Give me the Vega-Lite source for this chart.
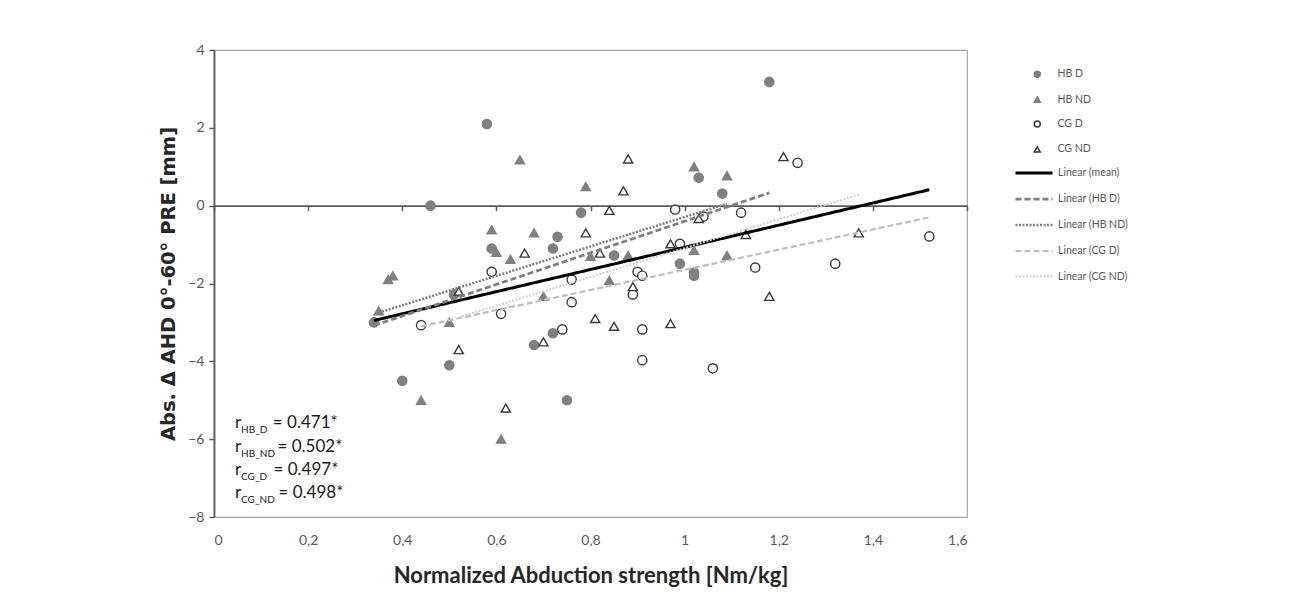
{
  "$schema": "https://vega.github.io/schema/vega-lite/v6.json",
  "width": 753,
  "height": 467,
  "autosize": "none",
  "padding": {"left": 214, "top": 50, "right": 323, "bottom": 80},
  "background": "white",
  "config": {
    "font": "Lato",
    "view": {"stroke": "#a6a6a6", "strokeWidth": 1.2}
  },
  "datasets": {
    "points": [
      {"group": "HB D", "x": 0.34, "y": -3.0}, {"group": "HB D", "x": 0.40, "y": -4.5}, {"group": "HB D", "x": 0.46, "y": 0.0},
      {"group": "HB D", "x": 0.50, "y": -4.1}, {"group": "HB D", "x": 0.51, "y": -2.28}, {"group": "HB D", "x": 0.58, "y": 2.1},
      {"group": "HB D", "x": 0.59, "y": -1.1}, {"group": "HB D", "x": 0.68, "y": -3.58}, {"group": "HB D", "x": 0.72, "y": -1.1},
      {"group": "HB D", "x": 0.72, "y": -3.28}, {"group": "HB D", "x": 0.73, "y": -0.8}, {"group": "HB D", "x": 0.75, "y": -5.0},
      {"group": "HB D", "x": 0.78, "y": -0.18}, {"group": "HB D", "x": 0.85, "y": -1.28}, {"group": "HB D", "x": 0.99, "y": -1.49},
      {"group": "HB D", "x": 1.02, "y": -1.72}, {"group": "HB D", "x": 1.02, "y": -1.8}, {"group": "HB D", "x": 1.03, "y": 0.72},
      {"group": "HB D", "x": 1.08, "y": 0.31}, {"group": "HB D", "x": 1.18, "y": 3.18},
      {"group": "HB ND", "x": 0.35, "y": -2.7}, {"group": "HB ND", "x": 0.37, "y": -1.9}, {"group": "HB ND", "x": 0.38, "y": -1.8},
      {"group": "HB ND", "x": 0.44, "y": -5.0}, {"group": "HB ND", "x": 0.50, "y": -3.0}, {"group": "HB ND", "x": 0.59, "y": -0.62},
      {"group": "HB ND", "x": 0.60, "y": -1.2}, {"group": "HB ND", "x": 0.61, "y": -6.0}, {"group": "HB ND", "x": 0.63, "y": -1.38},
      {"group": "HB ND", "x": 0.65, "y": 1.18}, {"group": "HB ND", "x": 0.68, "y": -0.7}, {"group": "HB ND", "x": 0.70, "y": -2.33},
      {"group": "HB ND", "x": 0.79, "y": 0.49}, {"group": "HB ND", "x": 0.80, "y": -1.3}, {"group": "HB ND", "x": 0.84, "y": -1.92},
      {"group": "HB ND", "x": 0.88, "y": -1.28}, {"group": "HB ND", "x": 1.02, "y": 1.0}, {"group": "HB ND", "x": 1.02, "y": -1.15},
      {"group": "HB ND", "x": 1.09, "y": 0.77}, {"group": "HB ND", "x": 1.09, "y": -1.28},
      {"group": "CG D", "x": 0.44, "y": -3.07}, {"group": "CG D", "x": 0.59, "y": -1.7}, {"group": "CG D", "x": 0.61, "y": -2.78},
      {"group": "CG D", "x": 0.74, "y": -3.18}, {"group": "CG D", "x": 0.76, "y": -1.9}, {"group": "CG D", "x": 0.76, "y": -2.48},
      {"group": "CG D", "x": 0.89, "y": -2.28}, {"group": "CG D", "x": 0.90, "y": -1.7}, {"group": "CG D", "x": 0.91, "y": -1.8},
      {"group": "CG D", "x": 0.91, "y": -3.18}, {"group": "CG D", "x": 0.91, "y": -3.97}, {"group": "CG D", "x": 0.98, "y": -0.1},
      {"group": "CG D", "x": 0.99, "y": -0.98}, {"group": "CG D", "x": 1.04, "y": -0.28}, {"group": "CG D", "x": 1.06, "y": -4.18},
      {"group": "CG D", "x": 1.12, "y": -0.18}, {"group": "CG D", "x": 1.15, "y": -1.59}, {"group": "CG D", "x": 1.24, "y": 1.1},
      {"group": "CG D", "x": 1.32, "y": -1.49}, {"group": "CG D", "x": 1.52, "y": -0.79},
      {"group": "CG ND", "x": 0.52, "y": -2.2}, {"group": "CG ND", "x": 0.52, "y": -3.7}, {"group": "CG ND", "x": 0.62, "y": -5.2},
      {"group": "CG ND", "x": 0.66, "y": -1.22}, {"group": "CG ND", "x": 0.70, "y": -3.5}, {"group": "CG ND", "x": 0.79, "y": -0.7},
      {"group": "CG ND", "x": 0.81, "y": -2.9}, {"group": "CG ND", "x": 0.82, "y": -1.22}, {"group": "CG ND", "x": 0.84, "y": -0.12},
      {"group": "CG ND", "x": 0.85, "y": -3.1}, {"group": "CG ND", "x": 0.87, "y": 0.38}, {"group": "CG ND", "x": 0.88, "y": 1.2},
      {"group": "CG ND", "x": 0.89, "y": -2.08}, {"group": "CG ND", "x": 0.97, "y": -0.98}, {"group": "CG ND", "x": 0.97, "y": -3.03},
      {"group": "CG ND", "x": 1.03, "y": -0.33}, {"group": "CG ND", "x": 1.13, "y": -0.74}, {"group": "CG ND", "x": 1.18, "y": -2.33},
      {"group": "CG ND", "x": 1.21, "y": 1.26}, {"group": "CG ND", "x": 1.37, "y": -0.7}
    ],
    "lines": [
      {"series": "Linear (mean)", "x": 0.34, "y": -2.95}, {"series": "Linear (mean)", "x": 1.52, "y": 0.41},
      {"series": "Linear (HB D)", "x": 0.34, "y": -3.08}, {"series": "Linear (HB D)", "x": 1.18, "y": 0.33},
      {"series": "Linear (HB ND)", "x": 0.35, "y": -2.75}, {"series": "Linear (HB ND)", "x": 1.09, "y": 0.05},
      {"series": "Linear (CG D)", "x": 0.44, "y": -3.1}, {"series": "Linear (CG D)", "x": 1.52, "y": -0.3},
      {"series": "Linear (CG ND)", "x": 0.52, "y": -2.87}, {"series": "Linear (CG ND)", "x": 1.37, "y": 0.28}
    ],
    "ann": [
      {"r": "r", "sub": "HB_D", "val": "= 0.471*", "y": -5.58, "xr": 0.0446, "xs": 0.0575, "xv": 0.1250},
      {"r": "r", "sub": "HB_ND", "val": "= 0.502*", "y": -6.20, "xr": 0.0446, "xs": 0.0575, "xv": 0.1350},
      {"r": "r", "sub": "CG_D", "val": "= 0.497*", "y": -6.79, "xr": 0.0446, "xs": 0.0575, "xv": 0.1265},
      {"r": "r", "sub": "CG_ND", "val": "= 0.498*", "y": -7.38, "xr": 0.0446, "xs": 0.0575, "xv": 0.1370}
    ]
  },
  "layer": [
    {
      "data": {"name": "points"},
      "mark": {"type": "point", "opacity": 1, "size": 85, "strokeWidth": 1.4},
      "encoding": {
        "x": {
          "field": "x", "type": "quantitative",
          "scale": {"domain": [0, 1.6], "nice": false, "zero": false},
          "axis": {
            "values": [0, 0.2, 0.4, 0.6, 0.8, 1, 1.2, 1.4, 1.6],
            "labelExpr": "replace(format(datum.value, '~g'), '.', ',')",
            "domain": false, "ticks": false, "tickSize": 0, "grid": false,
            "labelPadding": 16, "labelFontSize": 14, "labelColor": "#595959", "labelFont": "Lato",
            "title": "Normalized Abduction strength [Nm/kg]",
            "titleFontSize": 22, "titleFontWeight": "bold", "titleColor": "#262626", "titlePadding": 18, "titleFont": "Lato"
          }
        },
        "y": {
          "field": "y", "type": "quantitative",
          "scale": {"domain": [-8, 4], "nice": false, "zero": false},
          "axis": {
            "values": [-8, -6, -4, -2, 0, 2, 4],
            "grid": false, "domainColor": "#595959", "domainWidth": 1.8,
            "tickColor": "#595959", "tickSize": 5, "tickWidth": 1.5,
            "labelPadding": 5, "labelFontSize": 14, "labelColor": "#595959",
            "title": "Abs. Δ AHD 0°-60° PRE [mm]",
            "titleFont": "DejaVu Sans",
            "titleFontSize": 19.5, "titleFontWeight": "bold", "titleColor": "#262626", "titlePadding": 9
          }
        },
        "shape": {
          "field": "group", "type": "nominal",
          "scale": {"domain": ["HB D", "HB ND", "CG D", "CG ND"], "range": ["circle", "triangle-up", "circle", "triangle-up"]},
          "legend": {
            "title": null, "orient": "none", "legendX": 818, "legendY": 19,
            "symbolSize": 36, "symbolStrokeWidth": 1.5, "labelFontSize": 10.5, "labelColor": "#595959",
            "labelOffset": 15, "rowPadding": 12.4, "padding": 0
          }
        },
        "fill": {
          "field": "group", "type": "nominal",
          "scale": {"domain": ["HB D", "HB ND", "CG D", "CG ND"], "range": ["#808080", "#808080", "#ffffff", "#ffffff"]}
        },
        "stroke": {
          "field": "group", "type": "nominal",
          "scale": {"domain": ["HB D", "HB ND", "CG D", "CG ND"], "range": ["#808080", "#808080", "#3a3a3a", "#3a3a3a"]}
        }
      }
    },
    {
      "data": {"name": "lines"},
      "mark": {"type": "line"},
      "encoding": {
        "x": {
          "field": "x", "type": "quantitative",
          "axis": {
            "orient": "bottom", "offset": -311.33,
            "values": [0, 0.2, 0.4, 0.6, 0.8, 1, 1.2, 1.4, 1.6],
            "labels": false, "grid": false, "title": null,
            "domainColor": "#595959", "domainWidth": 1.8,
            "tickColor": "#595959", "tickSize": 5, "tickWidth": 1.5
          }
        },
        "y": {"field": "y", "type": "quantitative"},
        "color": {
          "field": "series", "type": "nominal",
          "scale": {
            "domain": ["Linear (mean)", "Linear (HB D)", "Linear (HB ND)", "Linear (CG D)", "Linear (CG ND)"],
            "range": ["#000000", "#7f7f7f", "#7f7f7f", "#bfbfbf", "#d0d0d0"]
          },
          "legend": {
            "title": null, "orient": "none", "legendX": 800, "legendY": 103,
            "symbolType": "stroke", "symbolSize": 1369, "labelFontSize": 10.5, "labelColor": "#595959",
            "labelOffset": 4, "rowPadding": -14, "padding": 0
          }
        },
        "strokeDash": {
          "field": "series", "type": "nominal",
          "scale": {
            "domain": ["Linear (mean)", "Linear (HB D)", "Linear (HB ND)", "Linear (CG D)", "Linear (CG ND)"],
            "range": [[1, 0], [6, 3], [2, 1.5], [6, 3], [2, 1.5]]
          }
        },
        "strokeWidth": {
          "field": "series", "type": "nominal",
          "scale": {
            "domain": ["Linear (mean)", "Linear (HB D)", "Linear (HB ND)", "Linear (CG D)", "Linear (CG ND)"],
            "range": [3, 2, 2, 2, 2]
          }
        }
      }
    },
    {
      "data": {"name": "ann"},
      "mark": {"type": "text", "align": "left", "baseline": "middle", "fontSize": 17, "color": "#1a1a1a"},
      "encoding": {
        "x": {"field": "xr", "type": "quantitative", "axis": null},
        "y": {"field": "y", "type": "quantitative"},
        "text": {"field": "r"}
      }
    },
    {
      "data": {"name": "ann"},
      "mark": {"type": "text", "align": "left", "baseline": "middle", "fontSize": 10, "dy": 7, "color": "#1a1a1a"},
      "encoding": {
        "x": {"field": "xs", "type": "quantitative", "axis": null},
        "y": {"field": "y", "type": "quantitative"},
        "text": {"field": "sub"}
      }
    },
    {
      "data": {"name": "ann"},
      "mark": {"type": "text", "align": "left", "baseline": "middle", "fontSize": 17, "color": "#1a1a1a"},
      "encoding": {
        "x": {"field": "xv", "type": "quantitative", "axis": null},
        "y": {"field": "y", "type": "quantitative"},
        "text": {"field": "val"}
      }
    }
  ],
  "resolve": {"axis": {"x": "independent"}}
}
